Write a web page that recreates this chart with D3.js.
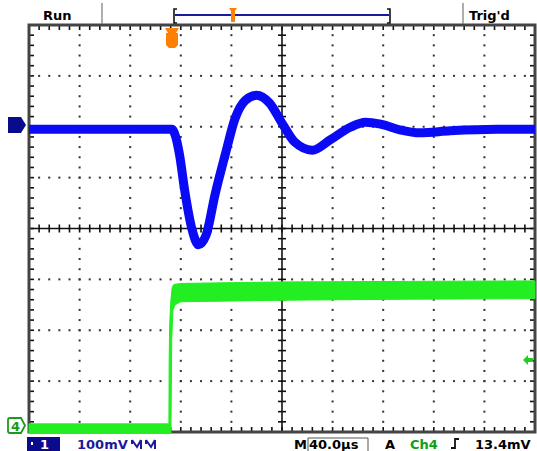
<!DOCTYPE html>
<html>
<head>
<meta charset="utf-8">
<style>
  body { margin: 0; background: #fff; }
  svg { display: block; }
  .lbl { font-family: "DejaVu Sans", sans-serif; font-weight: bold; font-size: 13px; }
</style>
</head>
<body>
<svg id="scope"></svg>
<script src="https://d3js.org/d3.v7.min.js"></script>
<script>
// time base: 10 div x 40 us, vertical: 8 div
var timeDomain = [0, 400];
var divDomain = [-4, 4];

// Ch1 (blue) trace, time in us, level in divisions
var blueT = [0, 60, 113, 116, 119, 123, 129, 134, 140, 147, 155, 163, 171, 180, 190, 201, 210, 224, 238, 254, 266, 278, 293, 309, 333, 370, 400];
var blueV = [1.95, 1.95, 1.95, 1.8, 1.45, 0.76, -0.03, -0.32, -0.13, 0.66, 1.44, 2.17, 2.52, 2.62, 2.47, 2.03, 1.7, 1.54, 1.74, 1.99, 2.09, 2.05, 1.94, 1.88, 1.92, 1.95, 1.95];

// Ch4 (green) trace outline: upper edge left to right, then lower edge back
var greenT = [0, 110.6, 110.8, 111.2, 112.0, 113.2, 114.5, 120, 200, 300, 400,
              400, 300, 200, 120, 115.5, 113.8, 112.8, 112.2, 0];
var greenV = [-3.84, -3.84, -2.6, -1.9, -1.45, -1.16, -1.1, -1.08, -1.05, -1.04, -1.03,
              -1.38, -1.39, -1.41, -1.44, -1.5, -1.6, -2.2, -4.02, -4.02];

// status texts
var topLeft = "Run";
var topRight = "Trig'd";
var ch1Scale = "100mV";
var timeScale = "40.0\u00b5s";
var trigSrc = "Ch4";
var trigLevel = "13.4mV";

var W = 537, H = 451;
var svg = d3.select('#scope').attr('width', W).attr('height', H);

var x = d3.scaleLinear().domain(timeDomain).range([29, 535]);
var y = d3.scaleLinear().domain(divDomain).range([432, 25]);

// dotted grid
var grid = svg.append('g').attr('fill', '#333');
d3.range(1, 10).filter(function(i){ return i !== 5; }).forEach(function(i){
  var t = i * 40;
  grid.selectAll(null).data(d3.range(-3.8, 3.81, 0.2)).enter().append('rect')
    .attr('x', x(t) - 1).attr('y', function(d){ return y(d) - 1; })
    .attr('width', 2).attr('height', 2);
});
d3.range(-3, 4).filter(function(i){ return i !== 0; }).forEach(function(i){
  grid.selectAll(null).data(d3.range(8, 393, 8)).enter().append('rect')
    .attr('x', function(d){ return x(d) - 1; }).attr('y', y(i) - 1)
    .attr('width', 2).attr('height', 2);
});

// center cross axes with ticks
var axes = svg.append('g').attr('stroke', '#111').attr('stroke-width', 1.6);
axes.append('line').attr('x1', x(0)).attr('x2', x(400)).attr('y1', y(0)).attr('y2', y(0));
axes.append('line').attr('x1', x(200)).attr('x2', x(200)).attr('y1', y(-4)).attr('y2', y(4));
axes.selectAll(null).data(d3.range(8, 393, 8)).enter().append('line')
  .attr('x1', function(d){ return x(d); }).attr('x2', function(d){ return x(d); })
  .attr('y1', y(0) - 4).attr('y2', y(0) + 4);
axes.selectAll(null).data(d3.range(-3.8, 3.81, 0.2)).enter().append('line')
  .attr('y1', function(d){ return y(d); }).attr('y2', function(d){ return y(d); })
  .attr('x1', x(200) - 4).attr('x2', x(200) + 4);

// frame with edge ticks
var frame = svg.append('g').attr('stroke', '#111');
frame.selectAll(null).data(d3.range(8, 393, 8)).enter().append('line')
  .attr('stroke-width', 1.6)
  .attr('x1', function(d){ return x(d); }).attr('x2', function(d){ return x(d); })
  .attr('y1', y(4)).attr('y2', y(4) + 5);
frame.selectAll(null).data(d3.range(8, 393, 8)).enter().append('line')
  .attr('stroke-width', 1.6)
  .attr('x1', function(d){ return x(d); }).attr('x2', function(d){ return x(d); })
  .attr('y1', y(-4)).attr('y2', y(-4) - 5);
frame.selectAll(null).data(d3.range(-3.8, 3.81, 0.2)).enter().append('line')
  .attr('stroke-width', 1.6)
  .attr('y1', function(d){ return y(d); }).attr('y2', function(d){ return y(d); })
  .attr('x1', x(0)).attr('x2', x(0) + 5);
frame.selectAll(null).data(d3.range(-3.8, 3.81, 0.2)).enter().append('line')
  .attr('stroke-width', 1.6)
  .attr('y1', function(d){ return y(d); }).attr('y2', function(d){ return y(d); })
  .attr('x1', x(400)).attr('x2', x(400) - 5);
frame.append('rect').attr('x', x(0)).attr('y', y(4))
  .attr('width', x(400) - x(0)).attr('height', y(-4) - y(4))
  .attr('fill', 'none').attr('stroke', '#444').attr('stroke-width', 3);

// traces
var pts = function(ts, vs){ return ts.map(function(t, i){ return [t, vs[i]]; }); };
var greenShape = d3.line().x(function(d){ return x(d[0]); }).y(function(d){ return y(d[1]); });
svg.append('path').datum(pts(greenT, greenV))
  .attr('d', function(d){ return greenShape(d) + 'Z'; })
  .attr('fill', '#22ee22').attr('stroke', '#22ee22').attr('stroke-width', 1);

var blueLine = d3.line().curve(d3.curveMonotoneX)
  .x(function(d){ return x(d[0]); }).y(function(d){ return y(d[1]); });
svg.append('path').datum(pts(blueT, blueV))
  .attr('d', blueLine)
  .attr('fill', 'none').attr('stroke', '#0a0af5').attr('stroke-width', 9)
  .attr('stroke-linejoin', 'round');

// top status bar
svg.append('text').attr('class', 'lbl').attr('x', 43).attr('y', 20).text(topLeft);
svg.append('line').attr('x1', 102).attr('x2', 102).attr('y1', 3).attr('y2', 24)
  .attr('stroke', '#777').attr('stroke-width', 1.2);
svg.append('line').attr('x1', 463).attr('x2', 463).attr('y1', 3).attr('y2', 24)
  .attr('stroke', '#777').attr('stroke-width', 1.2);
svg.append('text').attr('class', 'lbl').attr('x', 469).attr('y', 20).text(topRight);
// record window bracket
svg.append('path').attr('d', 'M177,9 H174 V23 H177 M387,9 H390 V23 H387')
  .attr('fill', 'none').attr('stroke', '#111').attr('stroke-width', 1.6);
svg.append('line').attr('x1', 175).attr('x2', 389).attr('y1', 15).attr('y2', 15)
  .attr('stroke', '#1a1aa0').attr('stroke-width', 2);
svg.append('path').attr('d', 'M229,8 H237 L235,11 V22 H231 V11 Z').attr('fill', '#ff7f00');
// trigger position marker
svg.append('path').attr('d', 'M165,28 H179 L176,33 H178 V45 L175,48 H169 L166,45 V33 H168 Z')
  .attr('fill', '#ff7f00');

// channel markers
svg.append('path').attr('d', 'M8,117 H21 L26,125 L21,133 H8 Z').attr('fill', '#0a0a8c');
svg.append('path').attr('d', 'M10,418 H21 L25,425.5 L21,433 H10 Q8,433 8,431 V420 Q8,418 10,418 Z')
  .attr('fill', '#fff').attr('stroke', '#1a9a1a').attr('stroke-width', 1.8);
svg.append('text').attr('class', 'lbl').attr('x', 11).attr('y', 431).attr('font-size', 13)
  .attr('fill', '#1a9a1a').text('4');
// trigger level arrow
svg.append('path').attr('d', 'M523,360 L528,355 V358 H533 V362 H528 V365 Z').attr('fill', '#22cc22');

// bottom status bar
svg.append('rect').attr('x', 27).attr('y', 437).attr('width', 33).attr('height', 14).attr('fill', '#0a0a8c');
svg.append('rect').attr('x', 31).attr('y', 442).attr('width', 2).attr('height', 3).attr('fill', '#fff');
svg.append('text').attr('class', 'lbl').attr('x', 40).attr('y', 449).attr('fill', '#fff').text('1');
svg.append('text').attr('class', 'lbl').attr('x', 77).attr('y', 449).attr('fill', '#1a1a9a').text(ch1Scale);
// coupling / bandwidth glyphs
[132, 146].forEach(function(gx){
  svg.append('path').attr('d', 'M' + gx + ',440 L' + (gx + 5) + ',447 L' + (gx + 9) + ',440 M' + (gx + 9) + ',440 V449 M' + gx + ',440 V444')
    .attr('fill', 'none').attr('stroke', '#1a1a9a').attr('stroke-width', 2);
});
svg.append('text').attr('class', 'lbl').attr('x', 294).attr('y', 449).text('M');
svg.append('path').attr('d', 'M308,451 V438 H368 V451').attr('fill', 'none').attr('stroke', '#555').attr('stroke-width', 1);
svg.append('text').attr('class', 'lbl').attr('x', 309).attr('y', 449).text(timeScale);
svg.append('text').attr('class', 'lbl').attr('x', 385).attr('y', 449).text('A');
svg.append('text').attr('class', 'lbl').attr('x', 410).attr('y', 449).attr('fill', '#10a010').text(trigSrc);
svg.append('path').attr('d', 'M451,448 H455 V439 H459').attr('fill', 'none').attr('stroke', '#111').attr('stroke-width', 1.8);
svg.append('text').attr('class', 'lbl').attr('x', 475).attr('y', 449).text(trigLevel);
</script>
</body>
</html>
